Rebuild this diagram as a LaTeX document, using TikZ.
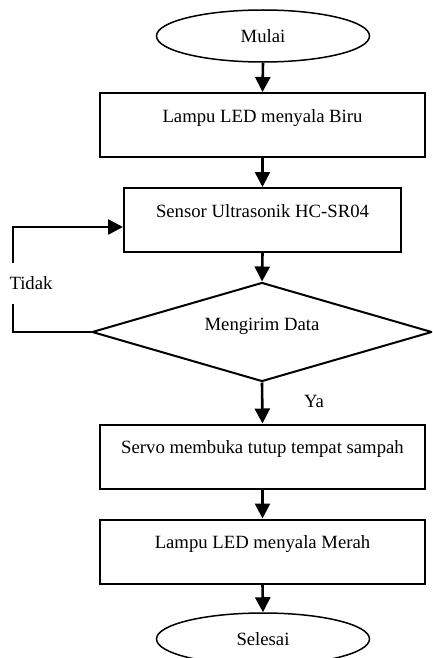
\documentclass[tikz,border=0pt]{standalone}
\usepackage{fontspec}
\setmainfont{Liberation Serif}
\usetikzlibrary{shapes.geometric,arrows.meta}
\begin{document}
\begin{tikzpicture}[x=1pt,y=-1pt,
  font=\fontsize{18.7}{22}\selectfont,
  box/.style={draw, line width=2pt, rectangle, minimum width=325pt, minimum height=64pt,
    text height=12pt, text depth=18pt, inner sep=0pt},
  term/.style={draw, line width=1.5pt, ellipse, minimum width=213pt, minimum height=52pt, inner sep=0pt},
  decide/.style={draw, line width=2pt, diamond, shape aspect=3.43, minimum width=340pt, minimum height=99pt,
    text height=12pt, text depth=16pt, inner sep=0pt},
  conn/.style={line width=2.6pt},
  arr/.style={conn, -{Triangle[width=15pt,length=15pt]}},
  lbl/.style={inner sep=0pt}
]
\useasboundingbox (0,0) rectangle (432,658);
\clip (0,0) rectangle (432,658);

\node[term] (start) at (263,36) {Mulai};
\node[box] (b1) at (262.5,125) {Lampu LED menyala Biru};
\node[box, minimum width=277pt] (b2) at (262.5,220) {Sensor Ultrasonik HC-SR04};
\node[decide] (dec) at (262,332) {Mengirim Data};
\node[box] (b3) at (262.5,456.5) {Servo membuka tutup tempat sampah};
\node[box] (b4) at (262.5,551.5) {Lampu LED menyala Merah};
\node[term] (end) at (263,639) {Selesai};

\node[lbl] (tidak) at (31,283) {Tidak};
\node[lbl] (ya) at (314,401) {Ya};

\coordinate (c1) at (13,332);
\coordinate (c2) at (13,304);
\coordinate (c3) at (13,263);
\coordinate (c4) at (13,227);

\draw[arr] (start.south) -- (b1.north);
\draw[arr] (b1.south) -- (b2.north);
\draw[arr] (b2.south) -- (dec.north);
\draw[arr] (dec.south) -- (b3.north);
\draw[arr] (b3.south) -- (b4.north);
\draw[arr] (b4.south) -- (end.north);
\draw[conn] (dec.west) -- (c1) -- (c2);
\draw[arr] (c3) -- (c4) -- (b2.west |- c4);
\end{tikzpicture}
\end{document}
